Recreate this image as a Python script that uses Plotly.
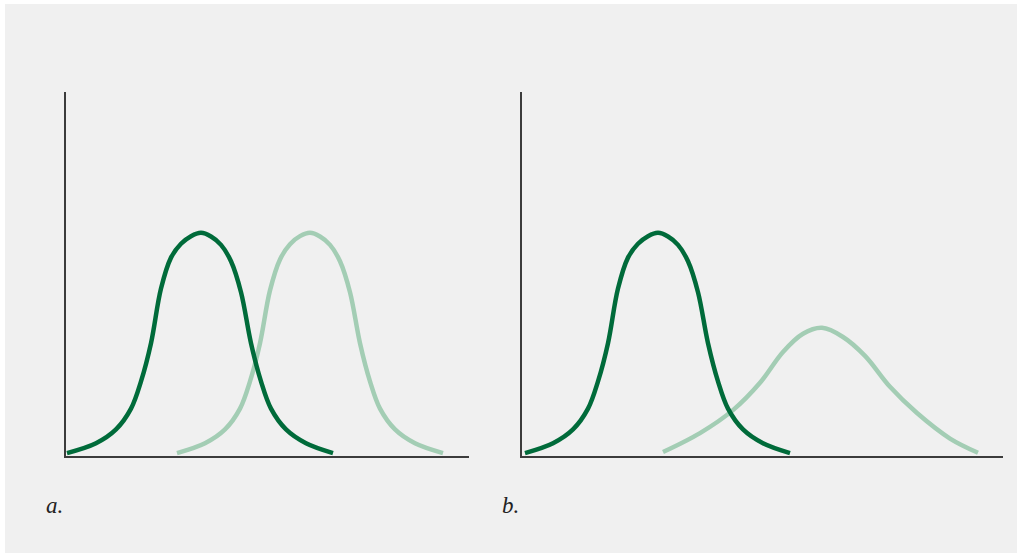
import plotly.graph_objects as go

W, H = 1021, 558

# panel a: two equal-spread curves, the second shifted right
a_dark_x = [0.1, 3.0, 5.0, 6.5, 7.5, 8.5, 9.5, 10.5, 11.5, 12.5, 13.5,
            14.5, 15.5, 16.5, 17.5, 18.5, 19.5, 20.5, 22.0, 24.0, 26.7]
a_dark_y = [0.8, 3.5, 7.3, 13.0, 20.5, 31.0, 46.0, 54.5, 58.3, 60.4, 61.3,
            60.3, 58.0, 53.5, 45.0, 31.0, 20.5, 13.0, 7.3, 3.5, 0.8]
a_light_x = [11.1, 13.9, 15.9, 17.4, 18.4, 19.4, 20.4, 21.4, 22.4, 23.4, 24.4,
             25.4, 26.4, 27.4, 28.4, 29.4, 30.4, 31.4, 32.9, 34.9, 37.7]
a_light_y = [0.8, 3.5, 7.3, 13.0, 20.5, 31.0, 45.5, 54.0, 58.2, 60.4, 61.3,
             60.3, 58.0, 53.5, 45.0, 31.0, 20.5, 13.0, 7.3, 3.5, 0.8]

# panel b: same narrow curve, second one wider and lower
b_dark_x = [0.3, 3.1, 5.1, 6.6, 7.6, 8.6, 9.6, 10.6, 11.6, 12.6, 13.6,
            14.6, 15.6, 16.6, 17.6, 18.6, 19.6, 20.6, 22.1, 24.1, 26.8]
b_dark_y = [0.8, 3.5, 7.3, 13.0, 20.5, 31.0, 46.0, 54.5, 58.3, 60.4, 61.3,
            60.3, 58.0, 53.5, 45.0, 31.0, 20.5, 13.0, 7.3, 3.5, 0.8]
b_light_x = [14.1, 17.8, 21.1, 23.8, 26.1, 28.1, 30.0, 32.1, 34.3, 36.8, 39.5, 42.8, 45.6]
b_light_y = [1.1, 6.3, 12.6, 20.1, 28.6, 33.6, 35.2, 32.7, 27.5, 19.0, 11.8, 4.8, 0.9]

panel_labels = ["a.", "b."]

DARK = "#006b3a"
LIGHT = "#a3cdb4"
AXIS = "#3c3c3c"

fig = go.Figure()
fig.add_trace(go.Scatter(x=a_light_x, y=a_light_y, mode="lines", line=dict(color=LIGHT, width=4.5, shape="spline"), xaxis="x", yaxis="y"))
fig.add_trace(go.Scatter(x=a_dark_x, y=a_dark_y, mode="lines", line=dict(color=DARK, width=4.5, shape="spline"), xaxis="x", yaxis="y"))
fig.add_trace(go.Scatter(x=b_light_x, y=b_light_y, mode="lines", line=dict(color=LIGHT, width=4.5, shape="spline"), xaxis="x2", yaxis="y2"))
fig.add_trace(go.Scatter(x=b_dark_x, y=b_dark_y, mode="lines", line=dict(color=DARK, width=4.5, shape="spline"), xaxis="x2", yaxis="y2"))

ax = dict(showgrid=False, zeroline=False, showticklabels=False, ticks="",
          showline=True, linecolor=AXIS, linewidth=1.5, fixedrange=True)
y0, y1 = (H - 456) / H, (H - 92) / H

fig.update_layout(
    width=W, height=H,
    margin=dict(l=0, r=0, t=0, b=0),
    paper_bgcolor="white",
    plot_bgcolor="rgba(0,0,0,0)",
    showlegend=False,
    xaxis=dict(ax, domain=[66 / W, 469 / W], range=[0, 40.3]),
    yaxis=dict(ax, domain=[y0, y1], range=[0, 100]),
    xaxis2=dict(ax, domain=[522 / W, 1003 / W], range=[0, 48.1], anchor="y2"),
    yaxis2=dict(ax, domain=[y0, y1], range=[0, 100], anchor="x2"),
    shapes=[dict(type="rect", xref="paper", yref="paper", layer="below",
                 x0=5 / W, x1=1017 / W, y0=(H - 553) / H, y1=(H - 4) / H,
                 fillcolor="#f0f0f0", line=dict(width=0))],
)

for lbl, px in zip(panel_labels, [44, 500]):
    fig.add_annotation(text=f"<i>{lbl}</i>", xref="paper", yref="paper",
                       x=px / W, y=(H - 505) / H, xanchor="left", yanchor="middle",
                       showarrow=False, font=dict(family="Liberation Serif", size=23, color="#222"))

# drop the default page margin so the figure sits at the window origin
fig.write_html("out.html", config={"displayModeBar": False},
               post_script="document.body.style.margin='0';document.body.style.overflow='hidden';")
